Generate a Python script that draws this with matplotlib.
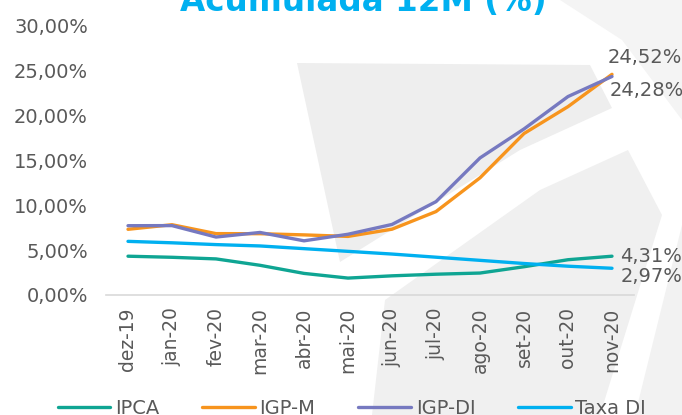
import matplotlib.pyplot as plt
from matplotlib.patches import Polygon

# Dados - inflação acumulada 12 meses (%)
meses = ['dez-19', 'jan-20', 'fev-20', 'mar-20', 'abr-20', 'mai-20',
         'jun-20', 'jul-20', 'ago-20', 'set-20', 'out-20', 'nov-20']
ipca = [4.31, 4.19, 4.01, 3.30, 2.40, 1.88, 2.13, 2.31, 2.44, 3.14, 3.92, 4.31]
igpm = [7.30, 7.81, 6.82, 6.81, 6.68, 6.51, 7.31, 9.27, 13.02, 17.94, 20.93, 24.52]
igpdi = [7.70, 7.71, 6.44, 6.95, 6.02, 6.75, 7.84, 10.37, 15.23, 18.45, 22.05, 24.28]
taxa_di = [5.96, 5.80, 5.60, 5.45, 5.15, 4.85, 4.55, 4.20, 3.85, 3.50, 3.20, 2.97]

cor_ipca = '#0FA593'
cor_igpm = '#F7941D'
cor_igpdi = '#7679C0'
cor_di = '#00B0F0'
cinza = '#595959'

W, H = 682, 415
fig = plt.figure(figsize=(W / 100, H / 100), dpi=100)

# marca d'água de fundo (em pixels)
bg = fig.add_axes([0, 0, 1, 1], zorder=-1)
bg.set_xlim(0, W)
bg.set_ylim(H, 0)
bg.axis('off')
formas = [
    ([(297, 63), (590, 65), (612, 108), (520, 150), (340, 262)], '#EEEEEE'),
    ([(372, 415), (385, 300), (540, 190), (628, 150), (662, 215), (600, 415)], '#F0F0F0'),
    ([(635, 415), (682, 225), (682, 415)], '#F2F2F2'),
    ([(560, 0), (682, 0), (682, 120), (622, 40)], '#F4F4F4'),
]
for pts, c in formas:
    bg.add_patch(Polygon(pts, closed=True, facecolor=c, edgecolor='none'))

ax = fig.add_axes([106 / W, 1 - 295 / H, 528 / W, 270 / H])
ax.patch.set_alpha(0)
x = range(len(meses))
for serie, cor, nome in [(ipca, cor_ipca, 'IPCA'), (igpm, cor_igpm, 'IGP-M'),
                         (igpdi, cor_igpdi, 'IGP-DI'), (taxa_di, cor_di, 'Taxa DI')]:
    ax.plot(x, serie, color=cor, lw=2.4, label=nome, solid_capstyle='round')

ax.set_xlim(-0.5, 11.5)
ax.set_ylim(0, 30)
ax.set_yticks(range(0, 31, 5))
ax.set_yticklabels([f'{v},00%' for v in range(0, 31, 5)])
ax.set_xticks(list(x))
ax.set_xticklabels(meses, rotation=90)
ax.tick_params(length=0, labelsize=14, colors=cinza)
ax.tick_params(axis='y', pad=13)
ax.tick_params(axis='x', pad=9, labelsize=13.5)
for s in ['top', 'right', 'left']:
    ax.spines[s].set_visible(False)
ax.spines['bottom'].set_color('#D9D9D9')
ax.spines['bottom'].set_linewidth(1.2)

# rótulos finais
def rotulo(v, dx, dy):
    ax.annotate(f'{v:.2f}%'.replace('.', ','), (11, v), xytext=(dx, dy),
                textcoords='offset points', fontsize=14, color=cinza,
                va='center', ha='left', annotation_clip=False)

rotulo(igpm[-1], -3, 12)
rotulo(igpdi[-1], -2, -10)
rotulo(ipca[-1], 6, 0)
rotulo(taxa_di[-1], 6, -6)

fig.text(363 / W, 1 - 11 / H, 'Acumulada 12M (%)', color='#00B0F0', fontsize=23.5,
         fontweight='bold', ha='center', va='baseline')

fig.legend(loc='lower center', bbox_to_anchor=(352 / W, -0.05), ncol=4,
           frameon=False, fontsize=14, handlelength=2.7, columnspacing=2.2,
           labelcolor=cinza, handletextpad=0.25)

fig.savefig('out.png', dpi=100)
